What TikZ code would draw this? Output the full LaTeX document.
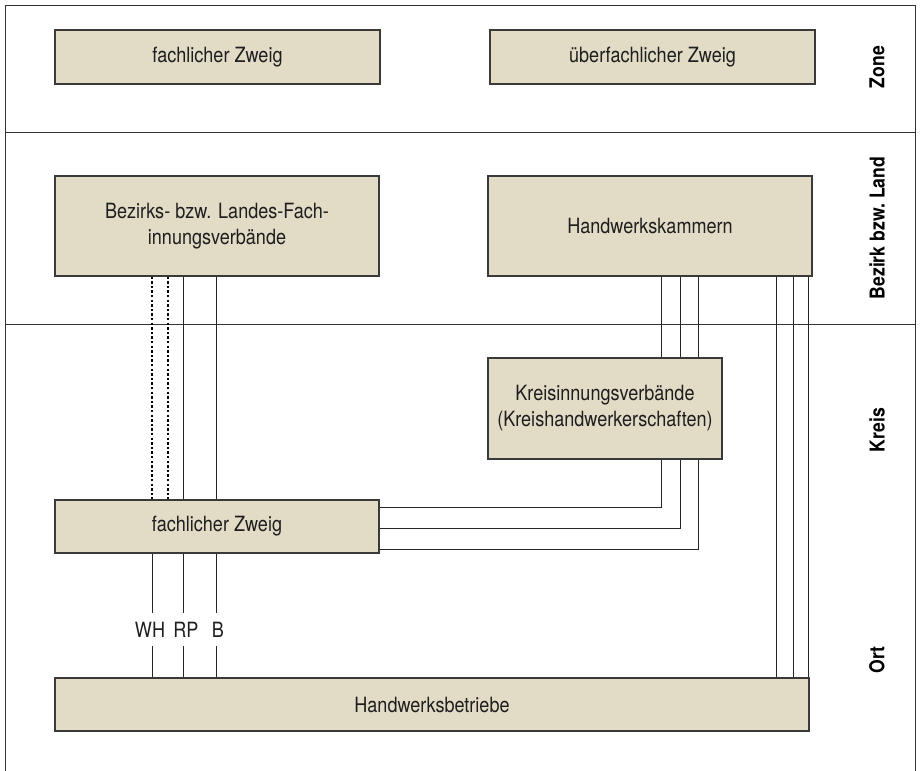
\documentclass[tikz,border=0pt]{standalone}
\usepackage{fontspec}
\setmainfont{TeX Gyre Heros}[FakeStretch=0.86]
\definecolor{boxfill}{HTML}{E2DBC6}
\definecolor{boxline}{HTML}{3A3A3A}
\definecolor{txt}{HTML}{1E1E1E}
\begin{document}
\begin{tikzpicture}[x=1pt,y=-1pt,
  box/.style={draw=boxline,fill=boxfill,line width=1.3pt,inner sep=0pt,align=center,
    text=txt,font=\fontsize{21}{26}\selectfont},
  zonelabel/.style={rotate=90,text=black,font=\bfseries\fontsize{20.5}{23}\selectfont},
  conn/.style={draw=black!85,line width=0.9pt},
  dotconn/.style={draw=black,line width=2.3pt,dash pattern=on 2.3pt off 2.3pt},
  abbr/.style={text=txt,font=\fontsize{21}{26}\selectfont,inner sep=0pt},
  frame/.style={draw=black!80,line width=1pt}]
\useasboundingbox (0,0) rectangle (922,771);
% frame and dividers
\draw[frame] (5,771) -- (5,5) -- (915,5) -- (915,771);
\draw[frame] (5,132) -- (915,132);
\draw[frame] (5,324) -- (915,324);
% zone labels
\node[zonelabel] (lzone) at (877,67) {Zone};
\node[zonelabel] (lbez) at (877,228) {Bezirk bzw.\ Land};
\node[zonelabel] (lkreis) at (877,430) {Kreis};
\node[zonelabel] (lort) at (877,660) {Ort};
% boxes
\node[box,minimum width=325pt,minimum height=54pt] (fz1) at (217.5,57) {fachlicher Zweig};
\node[box,minimum width=325pt,minimum height=54pt] (ufz) at (652.5,57) {überfachlicher Zweig};
\node[box,minimum width=324pt,minimum height=100pt] (bez) at (217,226) {Bezirks- bzw. Landes-Fach-\\innungsverbände};
\node[box,minimum width=324pt,minimum height=100pt] (hwk) at (650,226) {Handwerkskammern};
\node[box,minimum width=234pt,minimum height=101pt] (kiv) at (605,408.5) {Kreisinnungsverbände\\(Kreishandwerkerschaften)};
\node[box,minimum width=324pt,minimum height=53pt] (fz2) at (217,526.5) {fachlicher Zweig};
\node[box,minimum width=754pt,minimum height=53pt] (hwb) at (432,704.5) {Handwerksbetriebe};
% labels WH RP B
\node[abbr] (wh) at (150,630) {WH};
\node[abbr] (rp) at (186,630) {RP};
\node[abbr] (bb) at (218,630) {B};
% Bezirks -> fachlicher Zweig
\draw[dotconn] (152,0 |- bez.south) -- (152,0 |- fz2.north);
\draw[dotconn] (168,0 |- bez.south) -- (168,0 |- fz2.north);
\draw[conn] (183,0 |- bez.south) -- (183,0 |- fz2.north);
\draw[conn] (216,0 |- bez.south) -- (216,0 |- fz2.north);
% fachlicher Zweig -> Handwerksbetriebe (broken by labels)
\draw[conn] (152,0 |- fz2.south) -- (152,613);
\draw[conn] (152,646) -- (152,0 |- hwb.north);
\draw[conn] (183,0 |- fz2.south) -- (183,613);
\draw[conn] (183,646) -- (183,0 |- hwb.north);
\draw[conn] (216,0 |- fz2.south) -- (216,613);
\draw[conn] (216,646) -- (216,0 |- hwb.north);
% Handwerkskammern -> Kreisinnungsverbaende
\draw[conn] (661,0 |- hwk.south) -- (661,0 |- kiv.north);
\draw[conn] (680,0 |- hwk.south) -- (680,0 |- kiv.north);
\draw[conn] (698,0 |- hwk.south) -- (698,0 |- kiv.north);
% Kreisinnungsverbaende -> fachlicher Zweig
\draw[conn] (661,0 |- kiv.south) |- (fz2.east |- 0,507);
\draw[conn] (680,0 |- kiv.south) |- (fz2.east |- 0,528);
\draw[conn] (698,0 |- kiv.south) |- (fz2.east |- 0,549);
% Handwerkskammern -> Handwerksbetriebe
\draw[conn] (776,0 |- hwk.south) -- (776,0 |- hwb.north);
\draw[conn] (793,0 |- hwk.south) -- (793,0 |- hwb.north);
\draw[conn] (808.5,0 |- hwk.south) -- (808.5,0 |- hwb.north);
\end{tikzpicture}
\end{document}
